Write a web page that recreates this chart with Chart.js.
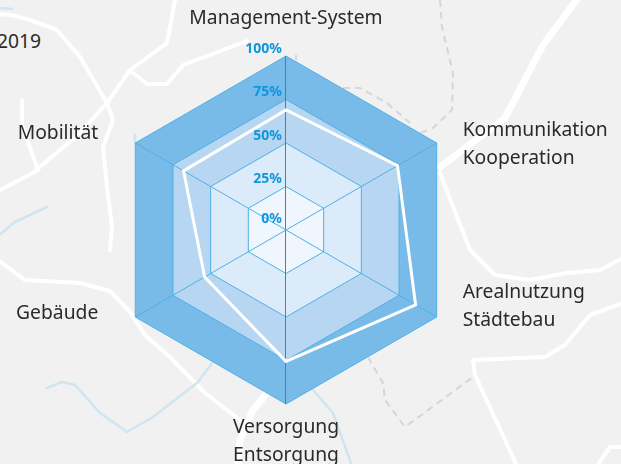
<!DOCTYPE html>
<html lang="de">
<head>
<meta charset="utf-8">
<title>Radar</title>
<script src="https://cdn.jsdelivr.net/npm/chart.js@4/dist/chart.umd.min.js"></script>
<style>
  html, body { margin: 0; padding: 0; width: 621px; height: 464px; overflow: hidden; background: #f1f1f1; }
  #map, #myChart { position: absolute; left: 0; top: 0; }
  #year { position: absolute; left: -3px; top: 27px; font: 19.3px "Noto Sans", sans-serif; color: #2a2a2a; }
</style>
</head>
<body>
<!-- map in the background -->
<svg id="map" width="621" height="464" fill="none" stroke-linejoin="round" stroke-linecap="round">
  <g stroke="#fff" stroke-width="4">
    <path d="M-2 14L12 15L30 20L57 30L80 57L107 103L113 120L103 147L107 187L112 227L110 250"/>
    <path d="M-2 191L33 173L80 133L107 103L130 70L167 43L175 0"/>
    <path d="M22 100L22 125L38 170"/>
    <path d="M132 72L147 84L167 84L183 65L247 41"/>
    <path d="M-2 260L25 280L80 283L110 291L130 312L145 335L170 357L205 393L240 420"/>
    <path d="M440 173L470 250L495 275L530 280L567 273L600 270L623 258"/>
    <path d="M623 303L590 315L565 345L545 357L473 360L475 375L517 466"/>
    <path d="M597 466L610 447L623 447"/>
  </g>
  <g stroke="#fff" stroke-width="7">
    <path d="M578 -2L543 45L505 118L440 167"/>
    <path d="M267 393L253 410L240 440L238 466"/>
  </g>
  <g stroke="#cfe6f0" stroke-width="2.5">
    <path d="M-2 236L15 222L47 207"/>
    <path d="M0 8L12 9"/>
    <path d="M135 135L135 143"/>
    <path d="M47 388L62 382L75 385L100 413L127 432L153 417L197 383L213 362"/>
    <path d="M313 390L333 413L352 466"/>
  </g>
  <g stroke="#d6d6d6" stroke-width="2" stroke-dasharray="7 5" stroke-linecap="butt">
    <path d="M368 357L383 383L385 400L405 427L473 377"/>
    <path d="M440 0L442 27L453 73L452 110L433 128L410 137"/>
    <path d="M343 88L360 88L387 103L410 123"/>
    <path d="M296 55L296 60"/>
  </g>
</svg>
<div id="year">2019</div>
<canvas id="myChart" width="621" height="464"></canvas>
<script>
const categories = ['Management-System', ['Kommunikation', 'Kooperation'], ['Arealnutzung', 'Städtebau'], ['Versorgung', 'Entsorgung'], 'Gebäude', 'Mobilität'];
const values = [69, 74, 86, 75.5, 54, 68];
const ring100 = [100, 100, 100, 100, 100, 100];
const ring75 = [75, 75, 75, 75, 75, 75];
const ring50 = [50, 50, 50, 50, 50, 50];
const ring25 = [25, 25, 25, 25, 25, 25];
const tickValues = [0, 25, 50, 75, 100];

// where each outer label sits relative to its corner of the hexagon
const labelPlace = [
  { dx: 0, dy: -37, align: 'center' },
  { dx: 26, dy: 1.5, align: 'left' },
  { dx: 26, dy: -10.5, align: 'left' },
  { dx: 0, dy: 38, align: 'center' },
  { dx: -37, dy: -3, align: 'right' },
  { dx: -37, dy: -9, align: 'right' }
];
const lineGap = 28;

const ring = (data, color) => ({
  data,
  backgroundColor: color,
  borderColor: '#4fb0e6',
  borderWidth: 1,
  pointRadius: 0,
  fill: true
});

// spokes have to sit above the solid fills, but under the white line
const spokes = {
  id: 'spokes',
  beforeDatasetDraw(chart, args) {
    if (args.index !== 0) return;
    const r = chart.scales.r;
    const ctx = chart.ctx;
    ctx.save();
    ctx.lineWidth = 1;
    categories.forEach((c, i) => {
      const p = r.getPointPositionForValue(i, 100);
      const upright = i === 0 || i === 3;
      // the upright spoke stays on one pixel column, that keeps it crisp and dark
      const nudge = upright ? -0.5 : 0;
      ctx.strokeStyle = upright ? '#1a8fd5' : '#4fb0e6';
      ctx.beginPath();
      ctx.moveTo(r.xCenter + nudge, r.yCenter);
      ctx.lineTo(p.x + nudge, p.y);
      ctx.stroke();
    });
    ctx.restore();
  },
  afterDraw(chart) {
    const r = chart.scales.r;
    const ctx = chart.ctx;
    ctx.save();
    ctx.textBaseline = 'middle';

    // outer labels
    ctx.font = '19.3px "Noto Sans", sans-serif';
    ctx.fillStyle = '#2a2a2a';
    categories.forEach((c, i) => {
      const p = r.getPointPositionForValue(i, 100);
      const lines = Array.isArray(c) ? c : [c];
      const place = labelPlace[i];
      ctx.textAlign = place.align;
      lines.forEach((line, n) => {
        const y = p.y + place.dy + (n - (lines.length - 1) / 2) * lineGap;
        ctx.fillText(line, p.x + place.dx, y);
      });
    });

    // percent labels, right aligned next to the top spoke
    ctx.font = 'bold 14px "Noto Sans", sans-serif';
    ctx.fillStyle = '#0f96dc';
    ctx.textAlign = 'right';
    tickValues.forEach(v => {
      const p = r.getPointPositionForValue(0, v);
      ctx.fillText(v + '%', r.xCenter - 4, p.y - (v === 0 ? 11 : 7));
    });
    ctx.restore();
  }
};

const myChart = new Chart(document.getElementById('myChart'), {
  type: 'radar',
  data: {
    labels: categories,
    datasets: [
      {
        data: values,
        borderColor: '#ffffff',
        borderWidth: 3,
        backgroundColor: 'transparent',
        pointRadius: 0,
        fill: false
      },
      ring(ring25, '#eff6fd'),
      ring(ring50, '#dbebfa'),
      ring(ring75, '#b7d6f2'),
      ring(ring100, '#78bbe8')
    ]
  },
  options: {
    responsive: false,
    animation: false,
    layout: { padding: { left: 0, right: 49, top: 56, bottom: 60 } },
    plugins: { legend: { display: false }, tooltip: { enabled: false } },
    scales: {
      r: {
        min: 0,
        max: 100,
        ticks: { display: false, stepSize: 25 },
        grid: { display: false },
        angleLines: { display: false },
        pointLabels: { display: false }
      }
    }
  },
  plugins: [spokes]
});
</script>
</body>
</html>
